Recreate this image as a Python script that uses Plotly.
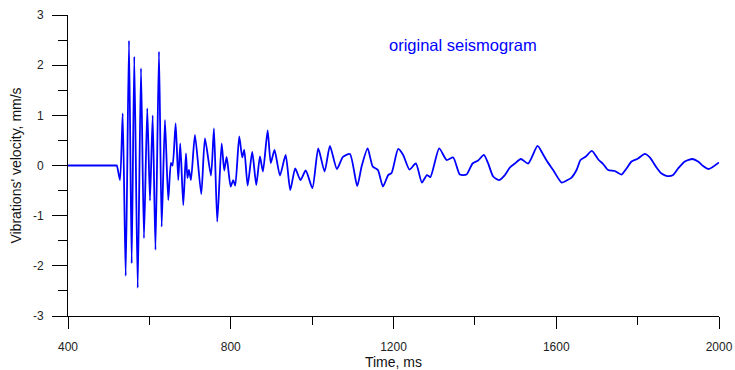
import plotly.graph_objects as go

# Time (ms) and vibration velocity (mm/s)
time_ms = [
    400, 518, 520, 527.8, 534.4, 541.8, 549.9, 556.5, 562.9, 571.3, 579.4, 586.7,
    594.8, 601.5, 608.1, 615.0, 623.6, 630.2, 638.3, 646.4, 653.1, 657.0, 664.6,
    671.0, 675.9, 683.3, 689.9, 693.6, 697.3, 702.2, 712.0, 727.5, 736.6, 751.4,
    758.7, 766.8, 777.6, 784.0, 789.9, 799.8, 806.1, 811.0, 820.9, 828.3, 833.2,
    841.5, 852.8, 862.7, 871.7, 879.1, 890.7, 898.3, 907.6, 920.9, 934.9, 946.2,
    958.5, 971.3, 984.3, 1000.7, 1015.0, 1030.7, 1043.7, 1060.9, 1075.7, 1092.9,
    1110.8, 1121.6, 1136.4, 1148.9, 1161.7, 1174.0, 1187.0, 1195.3, 1211.5,
    1223.8, 1239.3, 1255.0, 1269.8, 1282.1, 1290.7, 1312.3, 1330.5, 1346.7,
    1363.1, 1379.6, 1394.3, 1408.1, 1422.1, 1432.7, 1445.0, 1459.0, 1473.7,
    1486.0, 1498.3, 1513.0, 1531.0, 1554.0, 1566.3, 1576.2, 1592.4, 1613.0,
    1625.3, 1637.6, 1649.9, 1659.7, 1672.7, 1687.5, 1703.4, 1715.2, 1727.5,
    1744.0, 1760.4, 1772.7, 1785.0, 1801.2, 1817.7, 1830.0, 1846.4, 1858.7,
    1872.5, 1887.2, 1899.5, 1916.0, 1934.9, 1948.6, 1961.0, 1974.9, 2000.0,
]
velocity = [
    0, 0, 0, -0.29, 1.04, -2.20, 2.49, -1.95, 2.17, -2.44, 1.94, -1.45,
    1.14, -0.70, 1.00, -1.68, 2.27, -1.22, 0.91, -0.69, 0.05, 0.0, 0.84,
    -0.29, 0.44, -0.79, 0.24, -0.25, -0.09, -0.29, 0.61, -0.57, 0.54, -0.20,
    0.74, -1.12, 0.44, -0.10, 0.17, -0.42, -0.29, -0.40, 0.58, 0.16, 0.31,
    -0.40, 0.27, -0.39, 0.18, -0.12, 0.70, 0.05, 0.31, -0.20, 0.21, -0.49,
    -0.06, -0.29, -0.10, -0.45, 0.34, -0.12, 0.39, -0.07, 0.17, 0.23,
    -0.41, -0.02, 0.34, -0.02, -0.09, -0.42, -0.19, -0.15, 0.33,
    0.21, -0.08, 0.04, -0.34, -0.19, -0.23, 0.34, 0.11, 0.16,
    -0.18, -0.18, 0.04, 0.10, 0.21, 0.04, -0.22, -0.29, -0.19,
    -0.04, 0.04, 0.13, 0.04, 0.39, 0.24, 0.10, -0.09, -0.34,
    -0.30, -0.24, -0.09, 0.11, 0.18, 0.29, 0.12, 0.03, -0.09,
    -0.11, -0.18, -0.06, 0.08, 0.14, 0.23, 0.16, -0.04, -0.16,
    -0.21, -0.19, -0.06, 0.08, 0.13, 0.08, -0.01, -0.07, 0.06,
]

x_ticks = [400, 800, 1200, 1600, 2000]
y_ticks = [-3, -2, -1, 0, 1, 2, 3]

fig = go.Figure()
fig.add_trace(go.Scatter(
    x=time_ms, y=velocity, mode="lines",
    line=dict(color="#0000FF", width=1.8, shape="spline", smoothing=0.6),
    showlegend=False, hoverinfo="skip",
))

font_family = "Liberation Sans, Arial, sans-serif"

fig.update_layout(
    width=735, height=370,
    margin=dict(l=68, r=16, t=15, b=54),
    paper_bgcolor="white", plot_bgcolor="white",
    font=dict(family=font_family, size=12, color="#222222"),
    xaxis=dict(
        range=[400, 2000], tickvals=x_ticks, ticktext=[str(v) for v in x_ticks],
        showline=True, linecolor="black", linewidth=1, mirror=False,
        ticks="outside", ticklen=12, tickwidth=1, tickcolor="black",
        minor=dict(dtick=200, ticks="outside", ticklen=8, tickcolor="black", tickwidth=1),
        showgrid=False, zeroline=False, automargin=False,
        title=dict(text="Time, ms", font=dict(size=14, color="#111111"), standoff=3),
        tickfont=dict(size=12),
        ticklabelstandoff=8,
    ),
    yaxis=dict(
        range=[-3, 3], tickvals=y_ticks, ticktext=[str(v) for v in y_ticks],
        showline=True, linecolor="black", linewidth=1, mirror=False,
        ticks="outside", ticklen=15, tickwidth=1, tickcolor="black",
        minor=dict(dtick=0.5, ticks="outside", ticklen=9, tickcolor="black", tickwidth=1),
        showgrid=False, zeroline=False, automargin=False,
        title=dict(text="Vibrations' velocity, mm/s", font=dict(size=14, color="#111111"), standoff=8),
        tickfont=dict(size=12),
        ticklabelstandoff=6,
    ),
    annotations=[dict(
        x=1370, y=2.4, xref="x", yref="y", text="original seismogram",
        showarrow=False, font=dict(size=16.5, color="#0000FF", family=font_family),
        xanchor="center", yanchor="middle",
    )],
)

fig.write_html("out.html")
